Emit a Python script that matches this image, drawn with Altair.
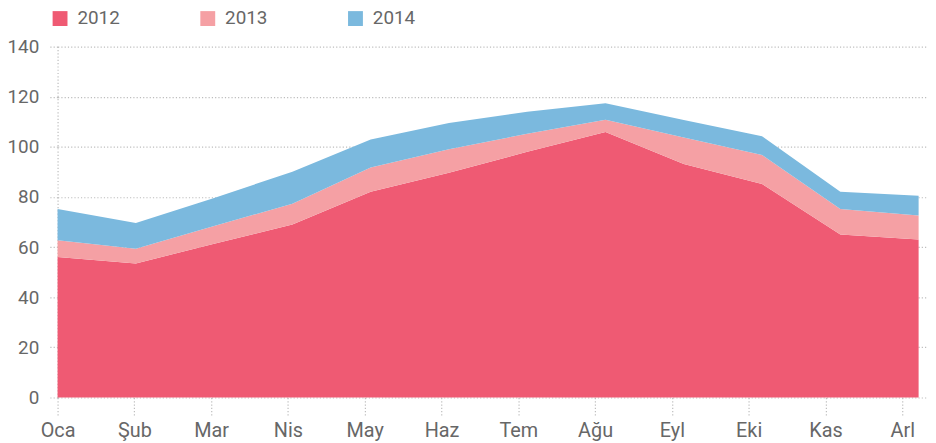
import altair as alt
import pandas as pd

months = ["Oca", "Şub", "Mar", "Nis", "May", "Haz", "Tem", "Ağu", "Eyl", "Eki", "Kas", "Arl"]
years = ["2012", "2013", "2014"]
v2012 = [56.0, 53.5, 61.3, 69.0, 82.1, 89.7, 98.0, 105.9, 93.1, 85.2, 65.0, 63.0]
v2013 = [6.7, 5.8, 7.1, 8.3, 9.7, 9.3, 7.2, 4.9, 10.6, 11.5, 10.2, 9.6]
v2014 = [12.5, 10.3, 11.2, 12.8, 11.1, 10.5, 8.8, 6.6, 7.0, 7.5, 6.9, 7.9]
colors = ["#EF5A73", "#F5A0A4", "#7BB9DE"]
y_ticks = [0, 20, 40, 60, 80, 100, 120, 140]

# tick spacing relative to data spacing (as in the reference)
tick_step = 0.981

rows = []
for k, (yr, vals) in enumerate(zip(years, [v2012, v2013, v2014])):
    for i, v in enumerate(vals):
        rows.append({"idx": i, "month": months[i], "year": yr, "value": v, "order": k})
df = pd.DataFrame(rows)

label_arr = "[" + ",".join("'" + m + "'" for m in months) + "]"
grid_color = "#bdbdbd"
text_color = "#676767"
font = "Roboto"
fs = 20

chart = alt.Chart(df).mark_area(opacity=1).encode(
    x=alt.X(
        "idx:Q",
        scale=alt.Scale(domain=[0, 11.12], nice=False, zero=False),
        axis=alt.Axis(
            values=[i * tick_step for i in range(len(months))],
            labelExpr=label_arr + "[round(datum.value / " + str(tick_step) + ")]",
            title=None,
            grid=False,
            domain=False,
            ticks=True,
            tickSize=19,
            tickColor=grid_color,
            tickDash=[1.2, 2.1],
            tickWidth=1.2,
            labelFontSize=fs,
            labelColor=text_color,
            labelFont=font,
            labelPadding=4,
            labelFlush=False,
            labelOverlap=False,
        ),
    ),
    y=alt.Y(
        "value:Q",
        stack="zero",
        scale=alt.Scale(domain=[0, 140], nice=False),
        axis=alt.Axis(
            values=y_ticks,
            title=None,
            grid=True,
            gridColor=grid_color,
            gridDash=[1.2, 2.1],
            gridWidth=1.2,
            domain=True,
            domainColor=grid_color,
            domainDash=[1.2, 2.1],
            domainWidth=1.2,
            ticks=True,
            tickSize=8,
            tickColor=grid_color,
            tickDash=[1.2, 2.1],
            tickWidth=1.2,
            labelFontSize=19,
            labelColor=text_color,
            labelFont=font,
            labelPadding=11,
        ),
    ),
    color=alt.Color(
        "year:N",
        scale=alt.Scale(domain=years, range=colors),
        legend=alt.Legend(
            title=None,
            orient="none",
            legendX=-7,
            legendY=-38,
            direction="horizontal",
            columns=3,
            symbolType="square",
            symbolSize=225,
            symbolStrokeWidth=0,
            symbolOpacity=1,
            labelFontSize=19,
            labelColor=text_color,
            labelFont=font,
            labelOffset=8,
            columnPadding=79,
        ),
    ),
    order=alt.Order("order:Q", sort="ascending"),
).properties(
    width=878,
    height=354,
    autosize=alt.AutoSizeParams(type="none"),
    padding={"left": 50, "top": 37, "right": 0, "bottom": 44},
).configure_view(stroke=None)

chart.save("out.html", embed_options={"renderer": "svg", "actions": False})
